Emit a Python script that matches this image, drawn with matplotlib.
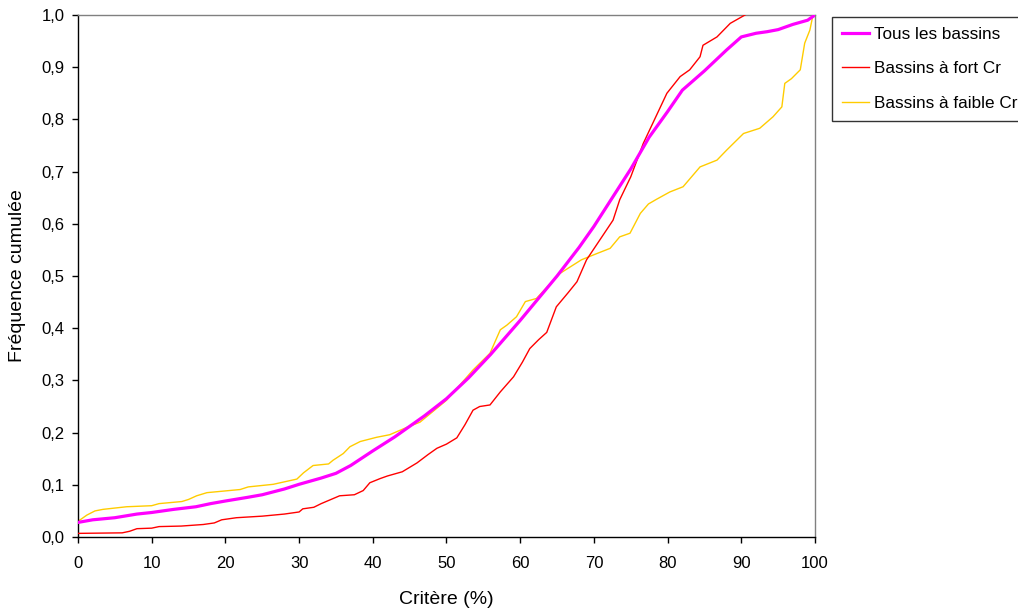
import matplotlib
matplotlib.use("Agg")
import matplotlib.pyplot as plt
from matplotlib.ticker import FuncFormatter

plt.rcParams['font.family'] = ['Liberation Sans', 'DejaVu Sans']

# Tous les bassins
x_tous = [0, 2, 5, 8, 10, 13, 16, 18, 20, 23, 25, 28, 30, 33, 35, 37, 40, 43, 45, 47,
          50, 53, 56, 60, 62, 65, 68, 70, 72.5, 75, 77.5, 80, 82, 85, 88, 90, 92, 93.5,
          95, 97, 99, 100]
y_tous = [0.028, 0.033, 0.037, 0.044, 0.047, 0.053, 0.058, 0.064, 0.069, 0.076, 0.081,
          0.092, 0.101, 0.113, 0.122, 0.137, 0.165, 0.192, 0.212, 0.232, 0.265, 0.305,
          0.350, 0.415, 0.449, 0.500, 0.555, 0.595, 0.650, 0.705, 0.766, 0.815, 0.856,
          0.893, 0.933, 0.958, 0.965, 0.968, 0.972, 0.982, 0.990, 1.0]

# Bassins a fort Cr
x_fort = [0, 6, 7, 8, 10, 11, 14, 17, 18.5, 19.5, 21.5, 25, 28, 30, 30.5, 32, 33, 34,
          35.5, 37.5, 38.7, 39.6, 41, 42, 44, 46, 47.5, 48.7, 50, 51.4, 52.5, 53.6, 54.5,
          55.9, 57.3, 59.1, 60.3, 61.3, 62.5, 63.6, 64.9, 66.5, 67.7, 69.0, 70.8, 72.6,
          73.5, 75, 76.7, 78, 79.9, 81.7, 83, 84.4, 84.8, 86.7, 88.5, 90.5]
y_fort = [0.007, 0.008, 0.011, 0.016, 0.017, 0.020, 0.021, 0.024, 0.027, 0.033, 0.037,
          0.040, 0.044, 0.048, 0.054, 0.057, 0.064, 0.070, 0.079, 0.081, 0.089, 0.104,
          0.112, 0.117, 0.125, 0.142, 0.158, 0.170, 0.178, 0.190, 0.215, 0.243, 0.250,
          0.253, 0.278, 0.307, 0.335, 0.361, 0.378, 0.392, 0.441, 0.468, 0.489, 0.531,
          0.569, 0.607, 0.646, 0.690, 0.754, 0.793, 0.850, 0.882, 0.895, 0.920, 0.942,
          0.958, 0.984, 1.0]

# Bassins a faible Cr
x_faible = [0, 1.2, 2.3, 3.4, 6.6, 10, 11, 14.1, 15, 16.1, 17.5, 22, 23.1, 26.5, 29.7,
            30.6, 31.9, 34, 34.6, 36, 36.9, 38.3, 40.5, 42.3, 44.6, 46.4, 50, 53.6, 55.9,
            57.3, 58.2, 59.5, 60.7, 62.2, 65.4, 68.3, 70.4, 72.2, 73.5, 74.9, 76.3, 77.4,
            78.5, 80.3, 82.1, 84.4, 86.7, 88, 90.3, 92.5, 94.3, 95.5, 95.9, 96.8, 98,
            98.6, 99.3, 99.7, 100]
y_faible = [0.030, 0.042, 0.050, 0.053, 0.058, 0.060, 0.064, 0.068, 0.072, 0.079, 0.085,
            0.091, 0.096, 0.101, 0.111, 0.123, 0.137, 0.140, 0.147, 0.160, 0.173, 0.183,
            0.191, 0.196, 0.210, 0.220, 0.262, 0.320, 0.352, 0.397, 0.406, 0.422, 0.451,
            0.457, 0.505, 0.531, 0.543, 0.553, 0.575, 0.582, 0.620, 0.638, 0.647, 0.661,
            0.671, 0.709, 0.722, 0.741, 0.773, 0.783, 0.805, 0.824, 0.869, 0.878, 0.895,
            0.946, 0.971, 0.998, 1.0]

fig = plt.figure(figsize=(10.18, 6.12), dpi=100)
ax = fig.add_axes([0.0766, 0.1225, 0.724, 0.853])

l_tous, = ax.plot(x_tous, y_tous, color='#FF00FF', lw=2.3, zorder=4, label='Tous les bassins')
l_fort, = ax.plot(x_fort, y_fort, color='#FF0000', lw=1.0, zorder=3, label='Bassins à fort Cr')
l_faible, = ax.plot(x_faible, y_faible, color='#FFCC00', lw=1.0, zorder=2, label='Bassins à faible Cr')

ax.set_xlim(0, 100)
ax.set_ylim(0, 1.0)
ax.set_xticks(range(0, 101, 10))
ax.set_yticks([i / 10 for i in range(11)])
ax.yaxis.set_major_formatter(FuncFormatter(lambda v, p: f"{v:.1f}".replace('.', ',')))

ax.tick_params(axis='x', direction='out', length=4, width=1, labelsize=12, pad=10)
ax.tick_params(axis='y', direction='out', length=4.5, width=1, labelsize=12, pad=5)

for side in ['left', 'bottom']:
    ax.spines[side].set_color('black')
    ax.spines[side].set_linewidth(1.0)
for side in ['top', 'right']:
    ax.spines[side].set_color('#808080')
    ax.spines[side].set_linewidth(1.0)

ax.set_xlabel('Critère (%)', fontsize=14, labelpad=14)
ax.set_ylabel('Fréquence cumulée', fontsize=14, labelpad=11)

leg = fig.legend(handles=[l_tous, l_fort, l_faible], loc='upper left',
                 bbox_to_anchor=(0.817, 0.973), fontsize=12.3, frameon=True,
                 fancybox=False, edgecolor='black', handlelength=1.6,
                 handletextpad=0.25, labelspacing=1.15, borderpad=0.6,
                 borderaxespad=0)
leg.get_frame().set_linewidth(1.0)

fig.savefig('out.png', dpi=100)
